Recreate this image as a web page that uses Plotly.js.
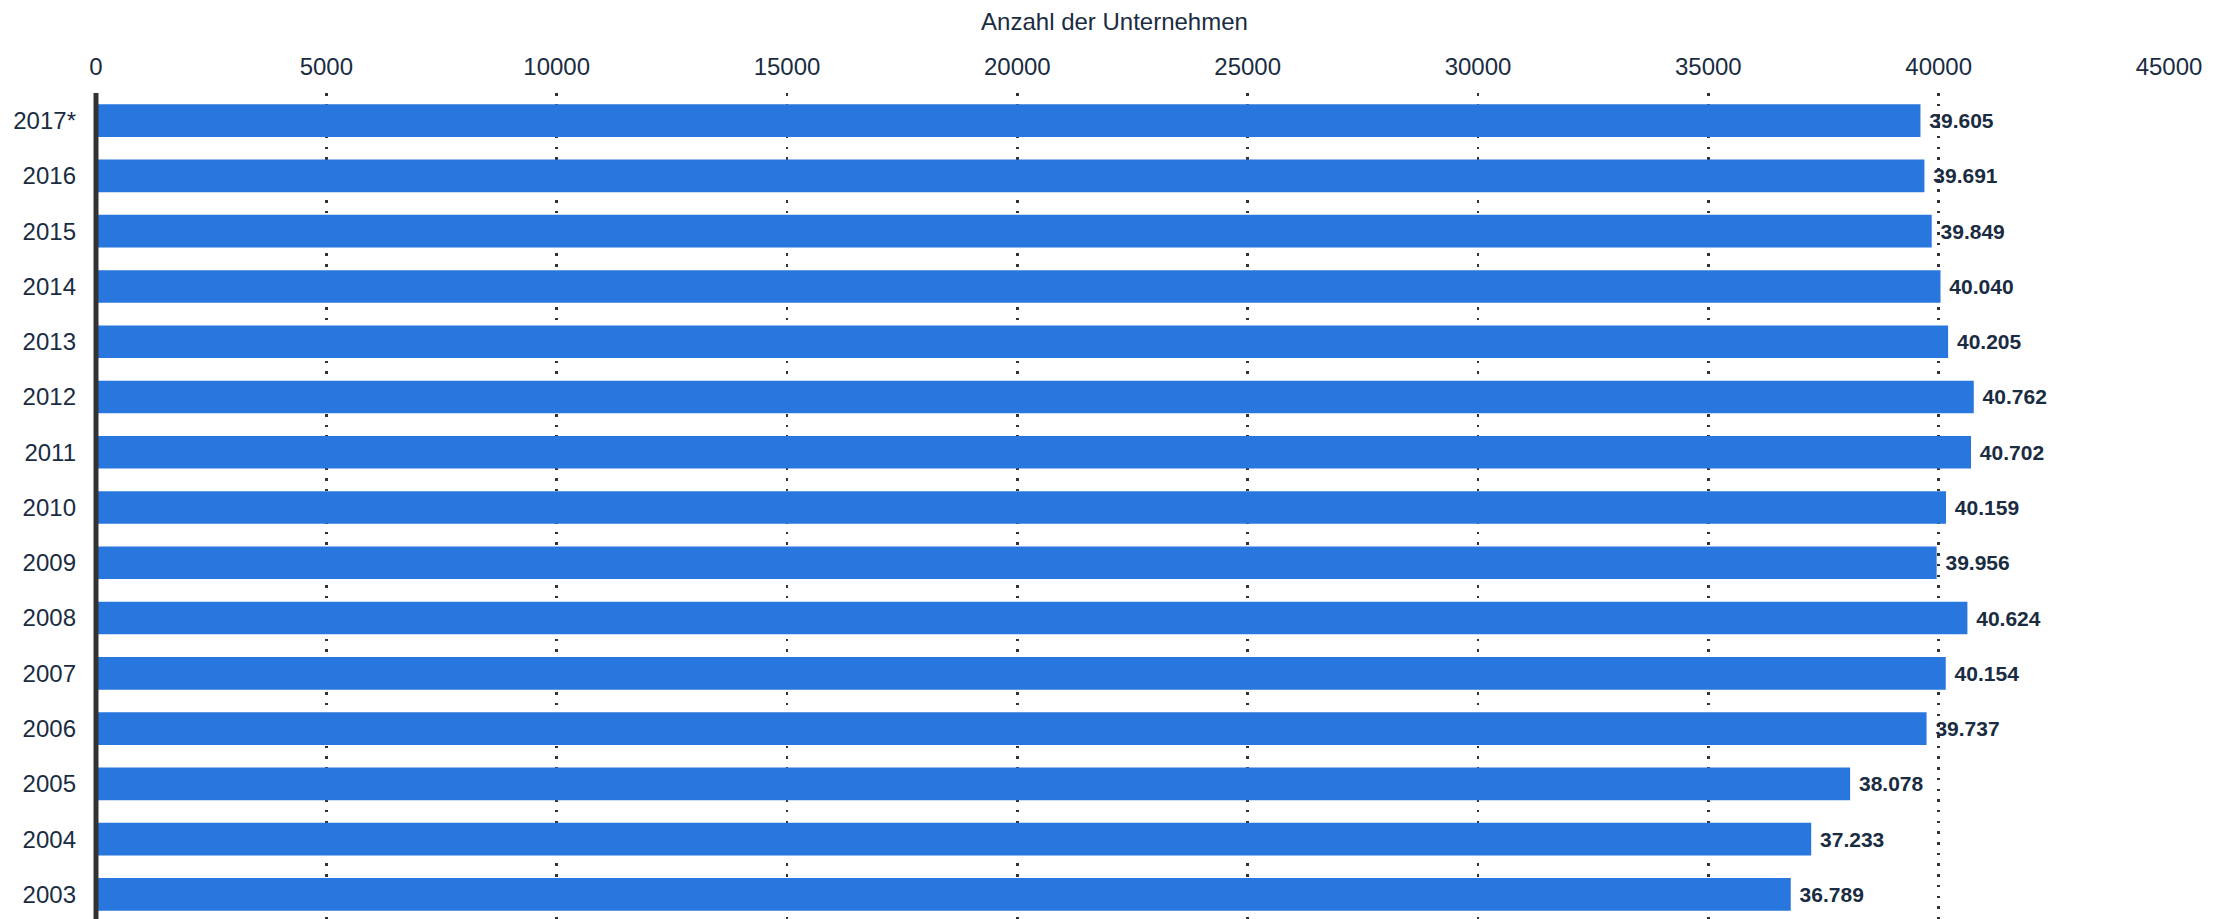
<!DOCTYPE html>
<html>
<head>
<meta charset="utf-8">
<script src="https://cdn.plot.ly/plotly-3.0.1.min.js"></script>
<style>html,body{margin:0;padding:0;background:#fff;}#chart{width:2229px;height:919px;}</style>
</head>
<body>
<div id="chart"></div>
<script>
const years = ["2017*","2016","2015","2014","2013","2012","2011","2010","2009","2008","2007","2006","2005","2004","2003"];
const companies = [39605,39691,39849,40040,40205,40762,40702,40159,39956,40624,40154,39737,38078,37233,36789];
const xTickVals = [0,5000,10000,15000,20000,25000,30000,35000,40000,45000];
const axisTitle = "Anzahl der Unternehmen";

const textColor = "#1a2c42";
const fontFam = "Liberation Sans, Arial, Helvetica, sans-serif";

const trace = {
  type: "bar",
  orientation: "h",
  y: years,
  x: companies,
  marker: {color: "#2877de", line: {width: 0}},
  texttemplate: "\u00a0%{x:,}",
  textposition: "outside",
  cliponaxis: false,
  outsidetextfont: {family: fontFam, size: 21, color: textColor, weight: "bold"},
  hoverinfo: "skip"
};

const layout = {
  width: 2229,
  height: 919,
  margin: {l: 96, r: 60, t: 93, b: 0, pad: 0},
  paper_bgcolor: "#ffffff",
  plot_bgcolor: "#ffffff",
  separators: ",.",
  showlegend: false,
  bargap: 0.41,
  font: {family: fontFam, color: textColor, size: 24},
  title: {
    text: axisTitle,
    font: {size: 24, color: textColor, family: fontFam},
    xref: "container", x: 0.5, xanchor: "center",
    yref: "container", y: 1 - 22/919, yanchor: "middle"
  },
  xaxis: {
    side: "top",
    range: [0, 45000],
    tickvals: xTickVals,
    tickformat: "d",
    ticks: "",
    ticklabelstandoff: 12,
    tickfont: {size: 24, color: textColor, family: fontFam},
    showgrid: true,
    gridcolor: "#333333",
    gridwidth: 2.5,
    griddash: "2.5px,8.2px",
    zeroline: false,
    showline: false,
    fixedrange: true
  },
  yaxis: {
    type: "category",
    categoryorder: "array",
    categoryarray: years,
    range: [14.445, -0.5],
    showline: false,
    showgrid: false,
    zeroline: false,
    ticks: "",
    ticklabelstandoff: 19,
    tickfont: {size: 24, color: textColor, family: fontFam},
    fixedrange: true
  },
  shapes: [{
    type: "line", xref: "paper", yref: "paper",
    x0: 0, x1: 0, y0: 0, y1: 1,
    line: {color: "#333333", width: 5},
    layer: "above"
  }]
};

Plotly.newPlot("chart", [trace], layout, {displayModeBar: false, staticPlot: true});
</script>
</body>
</html>
